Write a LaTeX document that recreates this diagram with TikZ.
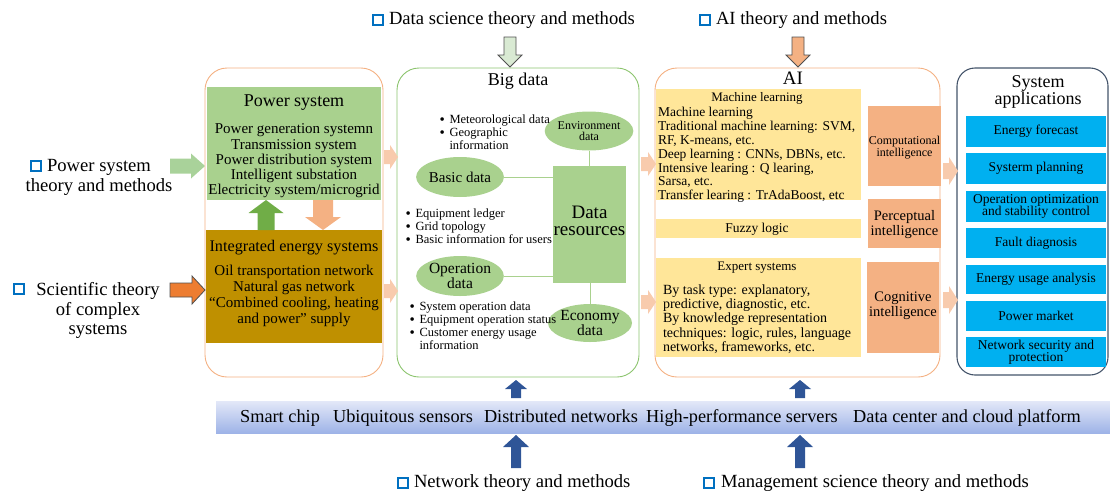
\documentclass[tikz,border=0pt]{standalone}
\usepackage{fontspec}
\setmainfont{Liberation Serif}
\usetikzlibrary{shapes.geometric}

\definecolor{psgreen}{HTML}{A9D18E}
\definecolor{arrgreen}{HTML}{A9D29A}
\definecolor{iegold}{HTML}{BF9000}
\definecolor{peachline}{HTML}{F4B183}
\definecolor{peach}{HTML}{F8CBAD}
\definecolor{salmon}{HTML}{F4B183}
\definecolor{bdline}{HTML}{8CC46E}
\definecolor{sysline}{HTML}{44546A}
\definecolor{mlyellow}{HTML}{FFE699}
\definecolor{appblue}{HTML}{00B0F0}
\definecolor{navy}{HTML}{2F5597}
\definecolor{sqblue}{HTML}{0070C0}
\definecolor{midgreen}{HTML}{70AD47}
\definecolor{deeporange}{HTML}{ED7D31}
\definecolor{palegreen}{HTML}{D9EAD3}
\definecolor{lightorange}{HTML}{F4B183}
\definecolor{edgegray}{HTML}{505050}
\definecolor{barTop}{HTML}{E3E8F8}
\definecolor{barBot}{HTML}{9EB3E7}

\newcommand\fsz[2]{\fontsize{#1}{#2}\selectfont}
\newcommand\bul{\makebox[10pt][l]{\raisebox{-0.6pt}{\fontsize{15}{15}\selectfont\textbullet}}}
% block arrow pointing right: [style]{x tail}{x tip}{y}{shaft half}{head half}{head length}
\newcommand\harrow[7][]{\path[#1] (#2,#4-#5) -- (#3-#7,#4-#5) -- (#3-#7,#4-#6) -- (#3,#4) -- (#3-#7,#4+#6) -- (#3-#7,#4+#5) -- (#2,#4+#5) -- cycle;}
% vertical block arrow: [style]{x}{y tail}{y head base}{y tip}{shaft half}{head half}
\newcommand\varrow[7][]{\path[#1] (#2-#6,#3) -- (#2-#6,#4) -- (#2-#7,#4) -- (#2,#5) -- (#2+#7,#4) -- (#2+#6,#4) -- (#2+#6,#3) -- cycle;}

\begin{document}
\begin{tikzpicture}[x=1pt,y=-1pt,
  every node/.style={inner sep=0pt, outer sep=0pt},
  panel/.style={draw, line width=0.9pt, rounded corners=22pt, anchor=north west},
  blk/.style={draw=none, anchor=north west},
  ell/.style={ellipse, fill=psgreen, align=center},
  link/.style={draw=psgreen, line width=0.8pt},
  sq/.style={draw=sqblue, line width=2.2pt, minimum size=10pt, fill=white},
  lbl/.style={font=\fsz{18.6}{19.5}},
  appbox/.style={fill=appblue, minimum width=140pt, anchor=north west, align=center, font=\fsz{13.5}{12.5}},
  smallbul/.style={anchor=north west, align=left, font=\fsz{12.5}{12.9}},
  bartext/.style={anchor=base, font=\fsz{18.3}{18.3}}
]
\useasboundingbox (0,0) rectangle (1110,493);

% ---------- outer panels ----------
\node[panel, draw=peachline, minimum width=178pt, minimum height=309pt] (lbox) at (205,68) {};
\node[panel, draw=bdline, minimum width=242pt, minimum height=309pt] (bdbox) at (397,68) {};
\node[panel, draw=peachline, minimum width=285pt, minimum height=309pt] (aibox) at (655,68) {};
\node[panel, draw=sysline, line width=1.1pt, rounded corners=18pt, minimum width=151pt, minimum height=307pt] (sabox) at (957,68) {};

% ---------- power system column ----------
\node[blk, fill=psgreen, minimum width=174pt, minimum height=113pt] (ps) at (207,87) {};
\node[font=\fsz{18}{18}] (pst) at (294,102.5) {Power system};
\node[align=center, font=\fsz{15}{15.3}] (psb) at (294,161) {Power generation systemn\\Transmission system\\Power distribution system\\Intelligent substation\\Electricity system/microgrid};

\node[blk, fill=iegold, minimum width=176pt, minimum height=113pt] (ie) at (206,230) {};
\node[font=\fsz{16.2}{16}] (iet) at (294,247.5) {Integrated energy systems};
\node[align=center, font=\fsz{15}{16}] (ieb) at (294,296) {Oil transportation network\\Natural gas network\\“Combined cooling, heating\\and power” supply};

\varrow[fill=midgreen]{266}{230}{213}{200}{8.5}{17.5}
\varrow[fill=salmon]{323}{200}{217}{230}{10}{18}

% ---------- left inputs ----------
\node[sq] (sq1) at (36,166) {};
\node[lbl, align=center] (pst1) at (99,177.5) {Power system\\theory and methods};
\harrow[fill=arrgreen]{170}{205}{166}{7.5}{12.5}{14}

\node[sq] (sq2) at (19,289) {};
\node[lbl, align=center] (sct) at (98,310.5) {Scientific theory\\of complex\\systems};
\harrow[fill=deeporange, draw=edgegray, line width=0.8pt]{170}{205}{290}{7}{14}{13}

% ---------- big data ----------
\node[font=\fsz{18}{18}] (bdt) at (518,81.5) {Big data};
\node[ell, minimum width=66pt, minimum height=39pt, font=\fsz{12}{11.5}] (envd) at (589,131) {Environment\\data};
\node[ell, minimum width=70pt, minimum height=40pt, font=\fsz{15}{15}] (basic) at (460,177) {Basic data};
\node[ell, minimum width=67pt, minimum height=40pt, font=\fsz{15.5}{15.5}] (oper) at (460,276) {\raisebox{-2pt}{Operation}\\\raisebox{-2pt}{data}};
\node[ell, minimum width=68pt, minimum height=38pt, font=\fsz{15.5}{14.5}] (econ) at (590,323) {Economy\\data};
\node[blk, fill=psgreen, minimum width=73pt, minimum height=117pt] (dres) at (553,166) {};
\node[align=center, font=\fsz{19}{17}] (drest) at (589.5,221) {Data\\resources};

\draw[link] (basic.east) -- (basic.east -| dres.west);
\draw[link] (oper.east) -- (oper.east -| dres.west);
\draw[link] (envd.south) -- (envd.south |- dres.north);
\draw[link] (econ.north |- dres.south) -- (econ.north);

\node[smallbul] (b1) at (439.5,115) {\bul Meteorological data\\\bul Geographic\\\hspace*{10pt}information};
\node[smallbul] (b2) at (405.5,209) {\bul Equipment ledger\\\bul Grid topology\\\bul Basic information for users};
\node[smallbul] (b3) at (409.5,302) {\bul System operation data\\\bul Equipment operation status\\\bul Customer energy usage\\\hspace*{10pt}information};

% ---------- AI ----------
\node[font=\fsz{19}{19}] (ait) at (793,78) {AI};
\node[blk, fill=mlyellow, minimum width=205pt, minimum height=111pt] (ml) at (656,89) {};
\node[font=\fsz{13}{13}] (mlt) at (757,98.5) {Machine learning};
\node[anchor=north west, align=left, font=\fsz{13.5}{13.8}] (mlb) at (658,107.5) {Machine learning\\Traditional machine learning: SVM,\\RF, K-means, etc.\\Deep learning : CNNs, DBNs, etc.\\Intensive learing : Q learing,\\Sarsa, etc.\\Transfer learing : TrAdaBoost, etc};
\node[blk, fill=mlyellow, minimum width=205pt, minimum height=19pt] (fz) at (656,219) {};
\node[font=\fsz{13.5}{13.5}] (fzt) at (757,229.5) {Fuzzy logic};
\node[blk, fill=mlyellow, minimum width=205pt, minimum height=99pt] (ex) at (656,258) {};
\node[font=\fsz{13}{13}] (ext) at (757,267.5) {Expert systems};
\node[anchor=north west, align=left, font=\fsz{14}{14.3}] (exb) at (663,284.5) {By task type: explanatory,\\predictive, diagnostic, etc.\\By knowledge representation\\techniques: logic, rules, language\\networks, frameworks, etc.};

\node[blk, fill=salmon, minimum width=73pt, minimum height=80pt] (comp) at (868,106) {};
\node[align=center, font=\fsz{12}{12}] (compt) at (904.5,148) {Computational\\intelligence};
\node[blk, fill=salmon, minimum width=73pt, minimum height=49pt] (perc) at (868,199) {};
\node[align=center, font=\fsz{14.5}{15}] (perct) at (904.5,225) {Perceptual\\intelligence};
\node[blk, fill=salmon, minimum width=72pt, minimum height=91pt] (cogn) at (867,262) {};
\node[align=center, font=\fsz{14.5}{15}] (cognt) at (903,306) {Cognitive\\intelligence};

% ---------- system applications ----------
\node[align=center, font=\fsz{18}{17}] (sat) at (1038,92) {System\\applications};
\node[appbox, minimum height=31pt] (a1) at (966,116) {Energy forecast};
\node[appbox, minimum height=31pt] (a2) at (966,153) {Systerm planning};
\node[appbox, minimum height=31pt] (a3) at (966,191) {Operation optimization\\and stability control};
\node[appbox, minimum height=30pt] (a4) at (966,228) {Fault diagnosis};
\node[appbox, minimum height=29pt] (a5) at (966,265) {Energy usage analysis};
\node[appbox, minimum height=30pt] (a6) at (966,301) {Power market};
\node[appbox, minimum height=30pt] (a7) at (966,337) {Network security and\\protection};

% ---------- arrows between panels ----------
\harrow[fill=peach]{384}{398}{157}{7}{12}{8}
\harrow[fill=peach]{384}{398}{291}{7}{12}{8}
\harrow[fill=peach]{641}{656}{164}{7}{12}{8}
\harrow[fill=peach]{641}{656}{302}{7}{12}{8}
\harrow[fill=peach]{943}{958}{171}{8}{14}{9}
\harrow[fill=peach]{943}{958}{300}{8}{14}{9}

% ---------- top inputs ----------
\node[sq] (sq3) at (378,20) {};
\node[lbl, anchor=west] (dst) at (389,20) {Data science theory and methods};
\varrow[fill=palegreen, draw=edgegray, line width=0.8pt]{510}{37}{55}{67}{6}{12}
\node[sq] (sq4) at (705,20) {};
\node[lbl, anchor=west] (ait2) at (716,20) {AI theory and methods};
\varrow[fill=lightorange, draw=edgegray, line width=0.8pt]{798}{37}{55}{67}{6}{12}

% ---------- infrastructure bar ----------
\node[blk, top color=barTop, bottom color=barBot, minimum width=894pt, minimum height=32pt] (bar) at (216,401) {};
\node[bartext] (i1) at (280,422.5) {Smart chip};
\node[bartext] (i2) at (403,422.5) {Ubiquitous sensors};
\node[bartext] (i3) at (561,422.5) {Distributed networks};
\node[bartext] (i4) at (742,422.5) {High-performance servers};
\node[bartext] (i5) at (967,422.5) {Data center and cloud platform};

\varrow[fill=navy]{516}{398}{389}{380}{5}{11}
\varrow[fill=navy]{800}{398}{389}{380}{5}{11}
\varrow[fill=navy]{516}{468}{447}{435}{5}{13}
\varrow[fill=navy]{800}{468}{447}{435}{5}{13}

% ---------- bottom inputs ----------
\node[sq] (sq5) at (403,483) {};
\node[lbl, anchor=west] (nt) at (414,483) {Network theory and methods};
\node[sq] (sq6) at (709,483) {};
\node[lbl, anchor=west] (mt) at (721,483) {Management science theory and methods};
\end{tikzpicture}
\end{document}
